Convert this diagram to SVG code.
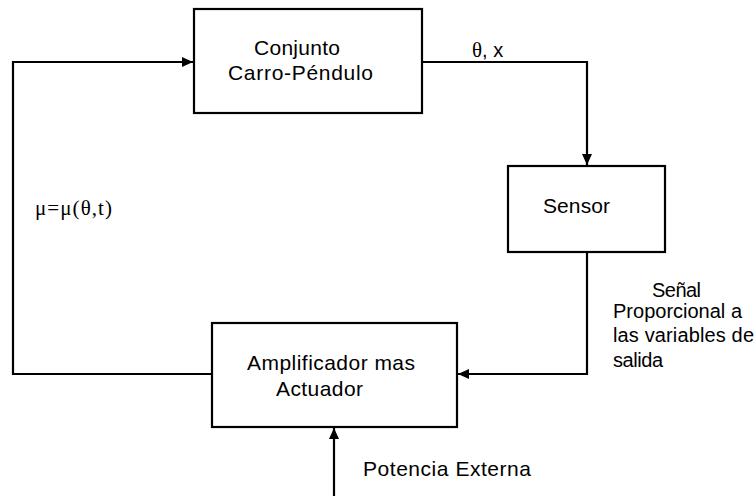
<svg xmlns="http://www.w3.org/2000/svg" width="756" height="496" viewBox="0 0 756 496">
<style>
.box{fill:#fff;stroke:#000;stroke-width:2.2}
.ln{fill:none;stroke:#000;stroke-width:2.2}
.t{font-family:"Liberation Sans",Arial,sans-serif;font-size:20px;fill:#000}
.b{font-size:21px}
.s{font-family:"Liberation Serif","Times New Roman",serif;font-size:21px;fill:#000}
</style>
<defs>
<marker id="ah" markerUnits="userSpaceOnUse" markerWidth="12" markerHeight="10" refX="11" refY="5" orient="auto">
<path d="M0,0 L11,5 L0,10 Z" fill="#000"/>
</marker>
</defs>
<rect width="756" height="496" fill="#fff"/>
<g id="connectors">
<polyline class="ln" points="212,374 13,374 13,62 193,62" marker-end="url(#ah)"/>
<polyline class="ln" points="422,62 587,62 587,165" marker-end="url(#ah)"/>
<polyline class="ln" points="587,252 587,374 458,374" marker-end="url(#ah)"/>
<polyline class="ln" points="334,496 334,428" marker-end="url(#ah)"/>
</g>
<g id="carro-pendulo">
<rect class="box" x="194" y="9" width="228" height="104"/>
<text class="t b" x="254" y="55" textLength="86" lengthAdjust="spacing">Conjunto</text>
<text class="t b" x="228" y="80" textLength="145" lengthAdjust="spacing">Carro-Péndulo</text>
</g>
<g id="sensor">
<rect class="box" x="508" y="166" width="157" height="86"/>
<text class="t b" x="543" y="213" textLength="67" lengthAdjust="spacing">Sensor</text>
</g>
<g id="amplificador">
<rect class="box" x="212" y="323" width="245" height="104"/>
<text class="t b" x="247" y="370" textLength="168" lengthAdjust="spacing">Amplificador mas</text>
<text class="t b" x="276" y="396" textLength="87" lengthAdjust="spacing">Actuador</text>
</g>
<g id="labels">
<text x="472" y="57" class="t" font-size="19"><tspan class="s" font-size="21">θ</tspan>, x</text>
<text class="s" x="35" y="215" textLength="77" lengthAdjust="spacing">μ=μ(θ,t)</text>
<text class="t" x="652" y="297" textLength="49" lengthAdjust="spacing">Señal</text>
<text class="t" x="613" y="318" textLength="129" lengthAdjust="spacing">Proporcional a</text>
<text class="t" x="613" y="342" textLength="141" lengthAdjust="spacing">las variables de</text>
<text class="t" x="613" y="367" textLength="50" lengthAdjust="spacing">salida</text>
<text class="t b" x="363" y="476" textLength="168" lengthAdjust="spacing">Potencia Externa</text>
</g>
</svg>
